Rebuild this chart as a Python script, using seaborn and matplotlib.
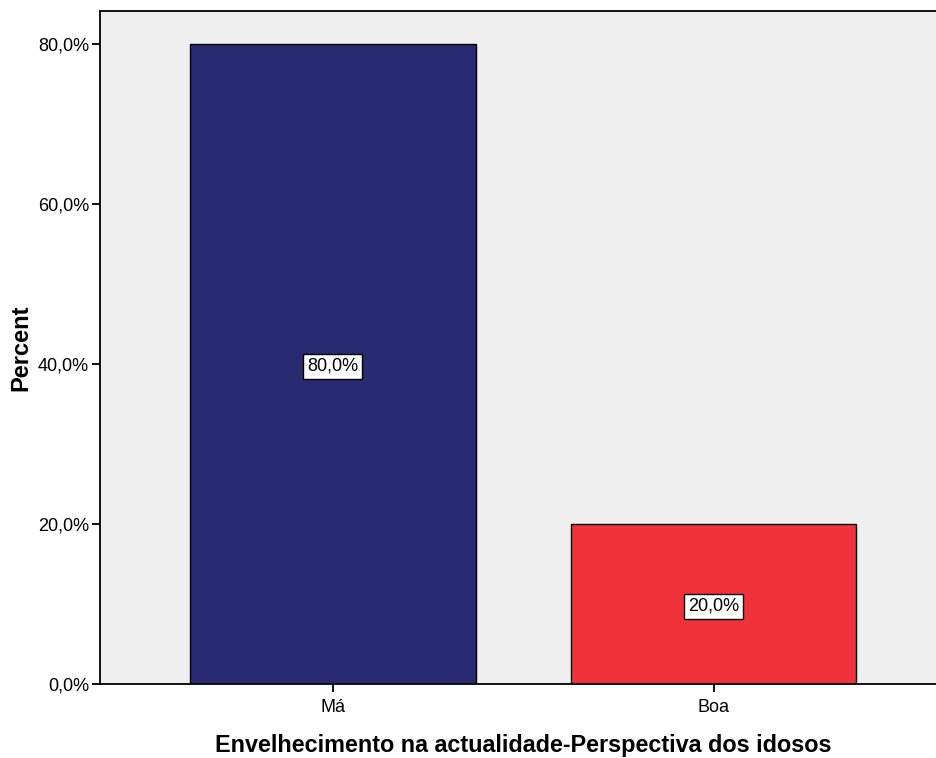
import matplotlib
matplotlib.use("Agg")
import matplotlib.pyplot as plt
import seaborn as sns
import pandas as pd

categories = ["Má", "Boa"]
percents = [80.0, 20.0]
colors = ["#282A72", "#F0333A"]
yticks = [0, 20, 40, 60, 80]

sns.set_theme(style="ticks")
plt.rcParams["font.family"] = ["Liberation Sans", "DejaVu Sans"]
plt.rcParams["text.color"] = "black"
plt.rcParams["axes.labelcolor"] = "black"
plt.rcParams["xtick.color"] = "black"
plt.rcParams["ytick.color"] = "black"

df = pd.DataFrame({"cat": categories, "pct": percents})

W, H = 936, 758
fig = plt.figure(figsize=(W / 100, H / 100), dpi=100)
left, right, top, bottom = 100, 946.5, 11, 684
ax = fig.add_axes([left / W, 1 - bottom / H, (right - left) / W, (bottom - top) / H])

sns.barplot(data=df, x="cat", y="pct", hue="cat", palette=colors, width=0.75,
            edgecolor="black", linewidth=1.0, saturation=1, legend=False, ax=ax)

ax.set_facecolor("#EFEFEF")
ax.set_xlim(-0.612, 1.612)
ax.set_ylim(0, 84.1)
ax.set_yticks(yticks)
ax.set_yticklabels([f"{v:.1f}%".replace(".", ",") for v in yticks], fontsize=13)
ax.tick_params(axis="both", direction="out", length=6, width=1.3, color="black",
               labelsize=13, labelcolor="black")
ax.tick_params(axis="y", pad=2)
ax.tick_params(axis="x", pad=5)
for s in ["left", "bottom", "top", "right"]:
    ax.spines[s].set_color("black")
    ax.spines[s].set_linewidth(1.3)

ax.set_ylabel("Percent", fontsize=17, fontweight="bold", labelpad=4, color="black")
ax.set_xlabel("Envelhecimento na actualidade-Perspectiva dos idosos", fontsize=16.8,
              fontweight="bold", labelpad=13, color="black")

for i, v in enumerate(percents):
    ax.text(i, v / 2 - 0.3, f"{v:.1f}%".replace(".", ","), ha="center", va="center",
            fontsize=13, color="black",
            bbox=dict(boxstyle="square,pad=0.22", facecolor="white",
                      edgecolor="black", linewidth=1.0))

fig.savefig("out.png", dpi=100)
